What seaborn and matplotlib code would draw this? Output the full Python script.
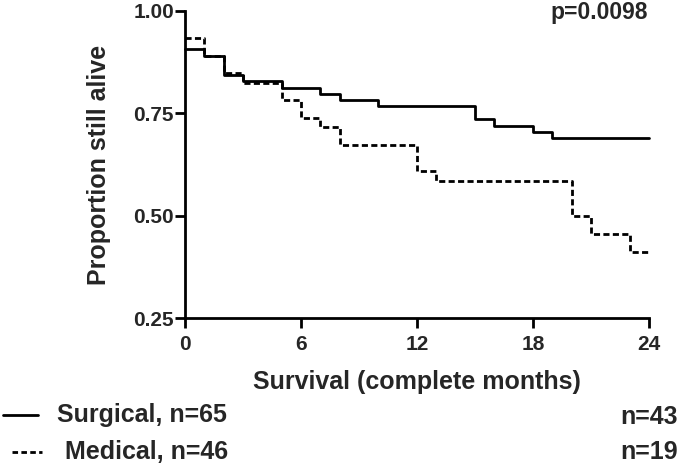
import pandas as pd
import matplotlib
matplotlib.use("Agg")
import matplotlib.pyplot as plt
import seaborn as sns
from matplotlib.lines import Line2D

# Kaplan-Meier step data
surg_months = [0, 1, 2, 3, 5, 7, 8, 10, 15, 16, 18, 19, 24]
surg_surv = [0.906, 0.890, 0.843, 0.829, 0.813, 0.797, 0.782, 0.767, 0.737, 0.720, 0.704, 0.689, 0.689]
med_months = [0, 1, 2, 3, 5, 6, 7, 8, 12, 13, 20, 21, 23, 24]
med_surv = [0.933, 0.891, 0.848, 0.824, 0.782, 0.738, 0.716, 0.672, 0.608, 0.585, 0.500, 0.455, 0.411, 0.411]

xticks = [0, 6, 12, 18, 24]
yticks = [0.25, 0.50, 0.75, 1.00]

sns.set_style("ticks")
plt.rcParams['font.family'] = ['Liberation Sans', 'DejaVu Sans']
plt.rcParams['font.weight'] = 'bold'

surg_df = pd.DataFrame({'month': surg_months, 'surv': surg_surv})
med_df = pd.DataFrame({'month': med_months, 'surv': med_surv})

dash = (0, (2.2, 1.2))

fig = plt.figure(figsize=(6.85, 4.70), dpi=100)
ax = fig.add_axes([185 / 685, 1 - 318 / 470, 464 / 685, 307 / 470])

sns.lineplot(data=surg_df, x='month', y='surv', ax=ax, color='black',
             linewidth=2, drawstyle='steps-post', estimator=None)
sns.lineplot(data=med_df, x='month', y='surv', ax=ax, color='black',
             linewidth=2, drawstyle='steps-post', estimator=None,
             linestyle=dash)

ax.set_xlim(0, 24)
ax.set_ylim(0.25, 1.00)
ax.set_xticks(xticks)
ax.set_xticklabels([str(t) for t in xticks], fontsize=15, fontweight='bold')
ax.set_yticks(yticks)
ax.set_yticklabels(['%.2f' % t for t in yticks], fontsize=15, fontweight='bold')
ax.tick_params(width=2, length=7, color='black')
ax.tick_params(axis='x', pad=5)
ax.tick_params(axis='y', pad=1)
for s in ['left', 'bottom']:
    ax.spines[s].set_linewidth(2)
    ax.spines[s].set_color('black')
sns.despine(ax=ax)
for ln in ax.lines:
    ln.set_clip_on(False)

ax.set_xlabel('Survival (complete months)', fontsize=18, fontweight='bold', va='center')
ax.xaxis.set_label_coords(0.5, (318 - 382) / 307)
ax.set_ylabel('Proportion still alive', fontsize=18, fontweight='bold', va='center')
ax.yaxis.set_label_coords((99 - 185) / 464, 0.5)

fig.text(648 / 685, 1 - 13 / 470, 'p=0.0098', fontsize=16.5, fontweight='bold',
         ha='right', va='center')

# legend-like footer
y1 = 1 - 415 / 470
y2 = 1 - 452 / 470
fig.add_artist(Line2D([3 / 685, 38 / 685], [y1, y1], color='black', linewidth=2))
fig.add_artist(Line2D([12 / 685, 42 / 685], [y2, y2], color='black', linewidth=2,
                      linestyle=(0, (2.0, 1.2))))
fig.text(57 / 685, y1, 'Surgical, n=65', fontsize=18, fontweight='bold', va='center')
fig.text(65 / 685, y2, 'Medical, n=46', fontsize=18, fontweight='bold', va='center')
fig.text(678 / 685, 1 - 417 / 470, 'n=43', fontsize=18, fontweight='bold', va='center', ha='right')
fig.text(678 / 685, y2, 'n=19', fontsize=18, fontweight='bold', va='center', ha='right')

fig.savefig('out.png', dpi=100)
